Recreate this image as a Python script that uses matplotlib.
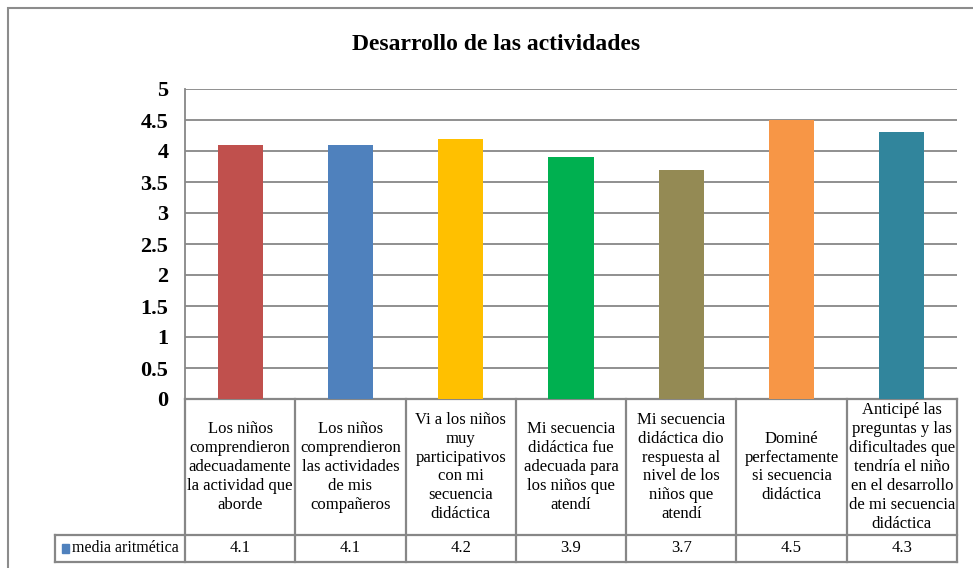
import numpy as np
import matplotlib
matplotlib.use("Agg")
import matplotlib.pyplot as plt
import matplotlib.transforms as mtransforms
from matplotlib.patches import Rectangle

plt.rcParams['font.family'] = ['Liberation Serif', 'DejaVu Serif']

categories = [
    "Los niños\ncomprendieron\nadecuadamente\nla actividad que\naborde",
    "Los niños\ncomprendieron\nlas actividades\nde mis\ncompañeros",
    "Vi a los niños\nmuy\nparticipativos\ncon mi\nsecuencia\ndidáctica",
    "Mi secuencia\ndidáctica fue\nadecuada para\nlos niños que\natendí",
    "Mi secuencia\ndidáctica dio\nrespuesta al\nnivel de los\nniños que\natendí",
    "Dominé\nperfectamente\nsi secuencia\ndidáctica",
    "Anticipé las\npreguntas y las\ndificultades que\ntendría el niño\nen el desarrollo\nde mi secuencia\ndidáctica",
]
values = [4.1, 4.1, 4.2, 3.9, 3.7, 4.5, 4.3]
series_name = "media aritmética"
colors = ['#C0504D', '#4F81BD', '#FFC000', '#00B050', '#948A54', '#F79646', '#31859C']
yticks = [0, 0.5, 1, 1.5, 2, 2.5, 3, 3.5, 4, 4.5, 5]

W, H = 973, 568
fig = plt.figure(figsize=(W / 100, H / 100), dpi=100)

# plot area in pixels
left, right, top, bottom = 185, 957, 89, 399
ax = fig.add_axes([left / W, 1 - bottom / H, (right - left) / W, (bottom - top) / H])

grid_c = '#878787'
x = np.arange(len(values))
ax.bar(x, values, width=0.41, color=colors, zorder=3)
ax.set_xlim(-0.5, len(values) - 0.5)
ax.set_ylim(0, 5)
ax.set_yticks(yticks)
ax.set_yticklabels([f"{t:g}" for t in yticks], fontsize=16, fontweight='bold')
ax.tick_params(axis='y', length=0, pad=12)
ax.set_xticks([])
ax.grid(axis='y', color=grid_c, linewidth=1.3, zorder=0)
for s in ['top', 'right', 'bottom']:
    ax.spines[s].set_visible(False)
ax.spines['left'].set_color(grid_c)
ax.spines['left'].set_linewidth(1.3)

fig.text(496 / W, 1 - 44 / H, "Desarrollo de las actividades", fontsize=17,
         fontweight='bold', ha='center', va='center')

# data table below the plot
tr = mtransforms.blended_transform_factory(ax.transData, ax.transAxes)
px_unit = (right - left) / len(values)
leg_left = -0.5 - (left - 55) / px_unit
h_px = bottom - top
y_cat = -(535 - bottom) / h_px
y_val = -(562 - bottom) / h_px
lkw = dict(color=grid_c, linewidth=1.6, transform=tr, clip_on=False)

ax.plot([-0.5, len(values) - 0.5], [0, 0], **lkw)
ax.plot([leg_left, len(values) - 0.5], [y_cat, y_cat], **lkw)
ax.plot([leg_left, len(values) - 0.5], [y_val, y_val], **lkw)
ax.plot([leg_left, leg_left], [y_cat, y_val], **lkw)
for b in np.arange(len(values) + 1) - 0.5:
    ax.plot([b, b], [0, y_val], **lkw)

for i, (cat, v) in enumerate(zip(categories, values)):
    ax.text(i, y_cat / 2, cat, transform=tr, ha='center', va='center',
            fontsize=12, linespacing=1.24)
    ax.text(i, (y_cat + y_val) / 2, f"{v:g}", transform=tr, ha='center',
            va='center', fontsize=12)

ax.add_patch(Rectangle((leg_left + 0.06, (y_cat + y_val) / 2 - 0.016), 0.07, 0.032,
                       transform=tr, color=colors[1], clip_on=False))
ax.text(leg_left + 0.15, (y_cat + y_val) / 2, series_name, transform=tr,
        ha='left', va='center', fontsize=11.5)

# outer chart frame
fig.patches.append(Rectangle((8 / W, -0.05), 1.0, 1 - 8 / H + 0.05, transform=fig.transFigure,
                             fill=False, edgecolor='#8c8c8c', linewidth=1.5))

fig.savefig("out.png", dpi=100)
